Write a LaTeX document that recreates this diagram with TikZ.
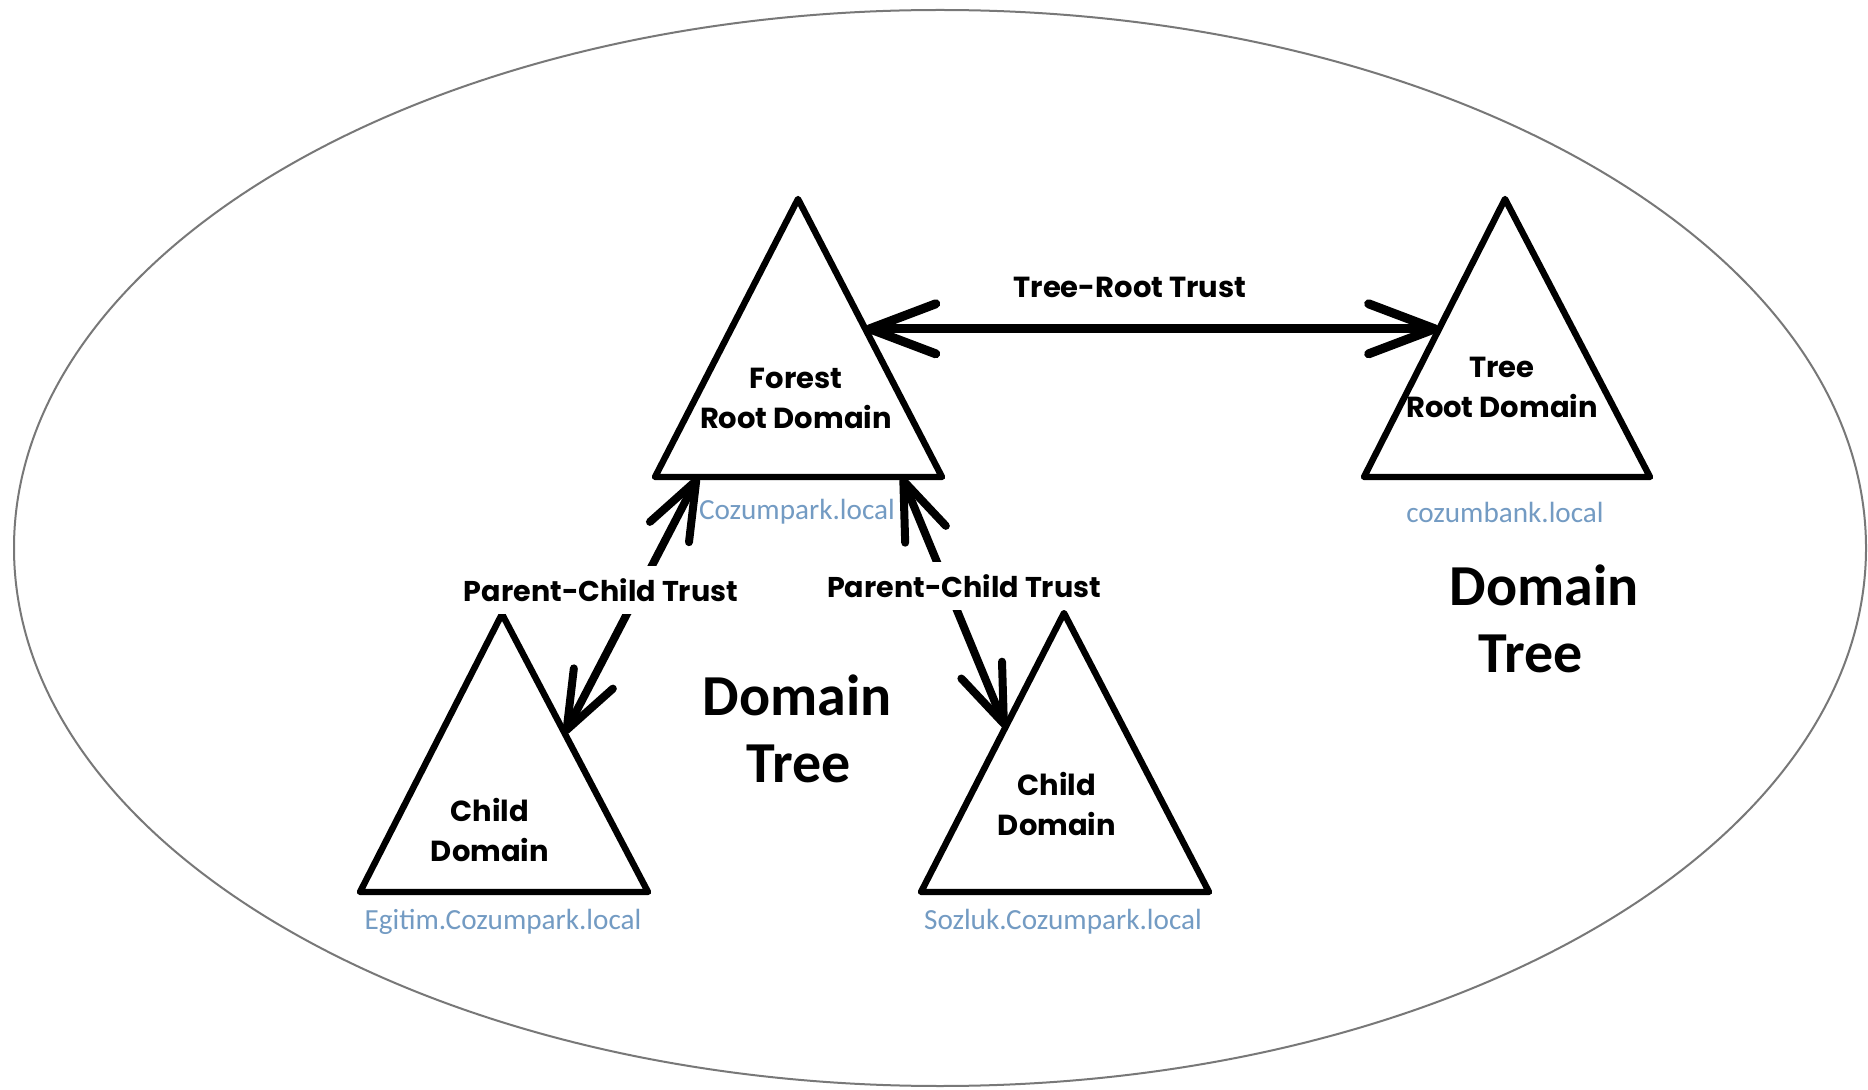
\documentclass[tikz,border=0pt]{standalone}
\usepackage{fontspec}
\setmainfont{Carlito}
\newfontfamily\lblfont{Poppins}
\usetikzlibrary{arrows.meta,calc}
\definecolor{domblue}{RGB}{115,155,195}
\definecolor{rimgray}{RGB}{120,120,120}
\tikzset{
  pcb/.tip={Straight Barb[length=29pt,width=22pt,round]},
  trb/.tip={Straight Barb[length=33pt,width=25pt,round]},
}
\begin{document}
\begin{tikzpicture}[x=0.5pt,y=-0.5pt,
  tri/.style={line width=3.2pt,line join=round},
  pcarrow/.style={line width=4pt,line cap=round,pcb-pcb},
  trarrow/.style={line width=4.5pt,line cap=round,trb-trb},
  lbl/.style={font=\lblfont\bfseries\fontsize{14.5pt}{20pt}\selectfont,align=center,inner sep=0pt},
  trustlbl/.style={font=\lblfont\bfseries\fontsize{14.3pt}{16pt}\selectfont,fill=white,inner xsep=2pt,inner ysep=6pt},
  dom/.style={font=\fontsize{14.6pt}{16pt}\selectfont,text=domblue,inner sep=0pt},
  big/.style={font=\bfseries\fontsize{29pt}{34.5pt}\selectfont,inner sep=0pt}]
\useasboundingbox (0,0) rectangle (1868,1090);
\fill[white] (0,0) rectangle (1868,1090);
% outer ellipse
\draw[rimgray,line width=1pt] (940,548) ellipse [x radius=926, y radius=538];
% triangles
\coordinate (Fa) at (798,199); \coordinate (Fl) at (655,477); \coordinate (Fr) at (942,477);
\coordinate (Ta) at (1505,199); \coordinate (Tl) at (1364,477); \coordinate (Tr) at (1650,477);
\coordinate (Aa) at (502,614); \coordinate (Al) at (360,892); \coordinate (Ar) at (648,892);
\coordinate (Ba) at (1064,613); \coordinate (Bl) at (921,892); \coordinate (Br) at (1209,892);
\draw[tri] (Fa) -- (Fl) -- (Fr) -- cycle;
\draw[tri] (Ta) -- (Tl) -- (Tr) -- cycle;
\draw[tri] (Aa) -- (Al) -- (Ar) -- cycle;
\draw[tri] (Ba) -- (Bl) -- (Br) -- cycle;
% connector ends on triangle edges
\coordinate (FE) at ($(Fa)!0.467!(Fr)$);
\coordinate (TW) at ($(Ta)!0.467!(Tl)$);
\coordinate (FBl) at ($(Fl)!0.15!(Fr)$);
\coordinate (FBr) at ($(Fl)!0.86!(Fr)$);
\coordinate (AE) at ($(Aa)!0.43!(Ar)$);
\coordinate (BW) at ($(Ba)!0.41!(Bl)$);
% arrows
\draw[trarrow] (FE) -- (TW);
\draw[pcarrow] (AE) -- (FBl);
\draw[pcarrow] (BW) -- (FBr);
% labels
\node[lbl] (Flbl) at (796,398) {Forest\\Root Domain};
\node[lbl] (Tlbl) at (1502,387) {Tree\\Root Domain};
\node[lbl] (Albl) at (490,830) {Child\\Domain};
\node[lbl] (Blbl) at (1057,804) {Child\\Domain};
\node[lbl] (trt) at (1130,287) {Tree-Root Trust};
\node[trustlbl] (pc1) at (601,590) {Parent-Child Trust};
\node[trustlbl] (pc2) at (964,586) {Parent-Child Trust};
\node[dom] (Fdom) at (797,512) {Cozumpark.local};
\node[dom] (Tdom) at (1505,512) {cozumbank.local};
\node[dom] (Adom) at (503,922) {Egitim.Cozumpark.local};
\node[dom] (Bdom) at (1063,922) {Sozluk.Cozumpark.local};
\node[big] (dt1a) at (797,695) {Domain};
\node[big] (dt1b) at (799,764) {Tree};
\node[big] (dt2a) at (1544,585) {Domain};
\node[big] (dt2b) at (1531,654) {Tree};
\end{tikzpicture}
\end{document}
